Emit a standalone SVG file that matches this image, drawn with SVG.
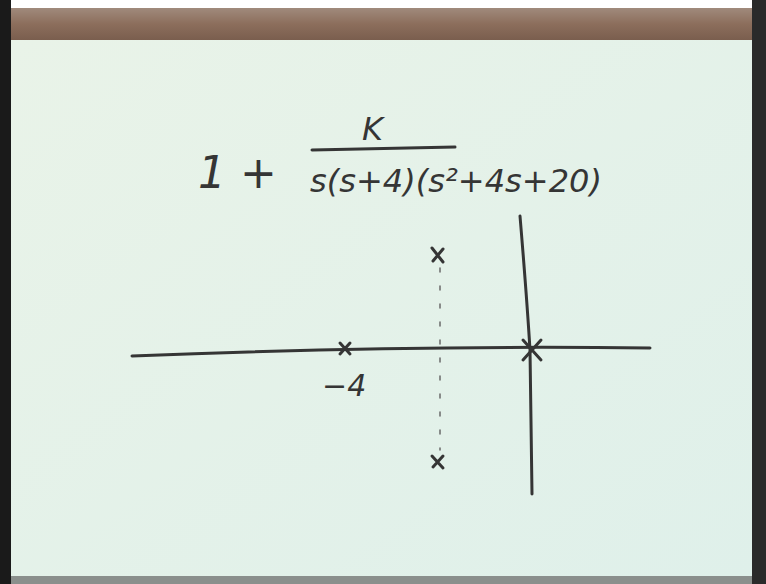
<svg xmlns="http://www.w3.org/2000/svg" width="766" height="584" viewBox="0 0 766 584">
<defs>
<linearGradient id="wood" x1="0" y1="0" x2="0" y2="1">
<stop offset="0" stop-color="#a08a7c"/>
<stop offset="0.5" stop-color="#8c6e5c"/>
<stop offset="1" stop-color="#7a5e4e"/>
</linearGradient>
<linearGradient id="paper" x1="0" y1="0" x2="1" y2="1">
<stop offset="0" stop-color="#e9f3e8"/>
<stop offset="1" stop-color="#dff0ea"/>
</linearGradient>
</defs>
<style>
.ink{stroke:#353535;stroke-width:3;fill:none;stroke-linecap:round;stroke-linejoin:round}
.thin{stroke:#6a6a6a;stroke-width:1.5;fill:none;stroke-linecap:round}
.t{font-family:"DejaVu Sans","Liberation Sans",sans-serif;fill:#353535}
</style>
<rect x="0" y="0" width="766" height="584" fill="#ffffff"/>
<rect x="0" y="0" width="11" height="584" fill="#1a1a1a"/>
<rect x="752" y="0" width="14" height="584" fill="#2a2a2a"/>
<rect x="11" y="40" width="741" height="538" fill="url(#paper)"/>
<rect x="11" y="8" width="741" height="32" fill="url(#wood)"/>
<rect x="11" y="576" width="741" height="8" fill="#8a8f8c"/>
<g id="formula">
<text class="t" x="198" y="188" font-size="44" font-style="italic">1 +</text>
<text class="t" x="362" y="140" font-size="32" font-style="italic">K</text>
<path class="ink" d="M312 150 L455 147" stroke-width="4"/>
<text class="t" x="310" y="192" font-size="32" font-style="italic" textLength="292" lengthAdjust="spacingAndGlyphs">s(s+4)(s²+4s+20)</text>
</g>
<g id="axes">
<path class="ink" d="M132 356 Q400 345 650 348"/>
<path class="ink" d="M520 216 Q527 300 530 350 L532 494"/>
<path class="thin" d="M440 268 L440 450" stroke-dasharray="4 14"/>
</g>
<g id="poles">
<path class="ink" d="M340 343 L350 354 M350 343 L340 354"/>
<path class="ink" d="M523 340 L541 360 M541 340 L523 360" stroke-width="3.5"/>
<path class="ink" d="M432 248 L443 262 M443 249 L433 261"/>
<path class="ink" d="M432 456 L443 468 M443 456 L433 467"/>
</g>
<g id="label">
<text class="t" x="322" y="396" font-size="30" font-style="italic">−4</text>
</g>
</svg>
